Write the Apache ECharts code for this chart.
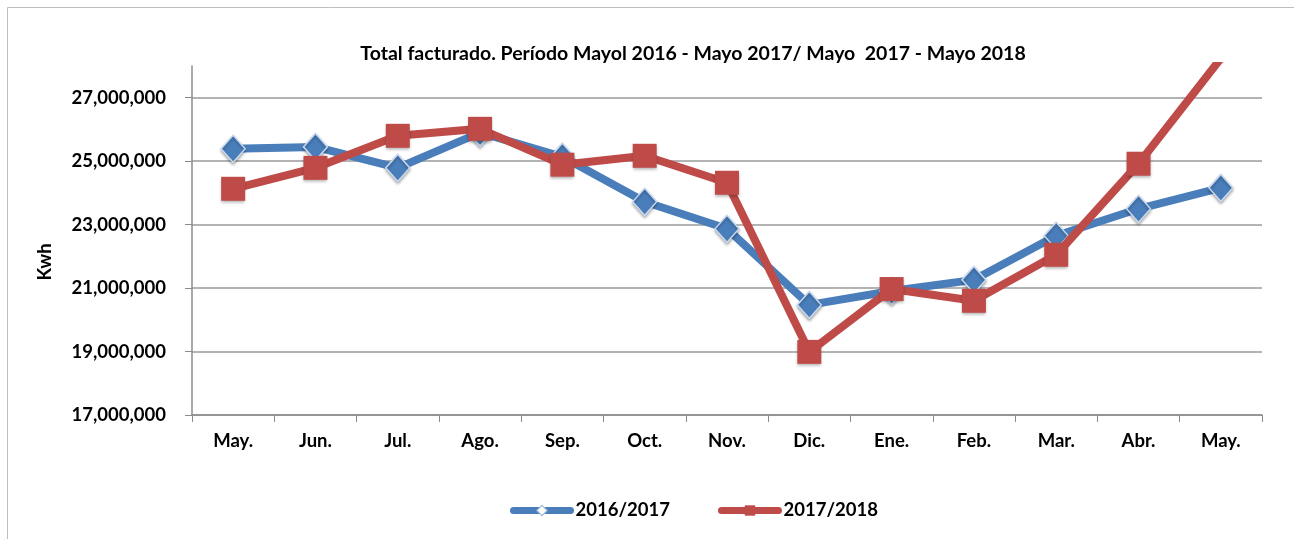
<!DOCTYPE html>
<html><head><meta charset="utf-8">
<script src="https://cdn.jsdelivr.net/npm/echarts@6/dist/echarts.min.js"></script>
<style>html,body{margin:0;padding:0;background:#fff}#c{width:1294px;height:539px}</style>
</head><body><div id="c"></div>
<script>
const categories = ['May.','Jun.','Jul.','Ago.','Sep.','Oct.','Nov.','Dic.','Ene.','Feb.','Mar.','Abr.','May.'];
const s2016 = [25390000,25450000,24790000,25900000,25140000,23720000,22870000,20470000,20910000,21260000,22650000,23500000,24160000];
const s2018 = [24130000,24790000,25800000,26020000,24890000,25170000,24320000,18990000,20970000,20600000,22050000,24920000,28240000];
const yTicks = [17000000,19000000,21000000,23000000,25000000,27000000];
const title = 'Total facturado. Período Mayol 2016 - Mayo 2017/ Mayo  2017 - Mayo 2018';
const yName = 'Kwh';
const FONT = 'Lato';
const FS = 18.5;
const chart = echarts.init(document.getElementById('c'));
chart.setOption({
  animation:false,
  backgroundColor:'#fff',
  title:{text:title,left:688,textAlign:'center',top:39,textStyle:{fontFamily:FONT,fontWeight:'bold',fontSize:19.5,color:'#000'}},
  graphic:[
    {type:'rect',shape:{x:7.5,y:7.5,width:1300,height:600},style:{fill:'none',stroke:'#bdbdbd',lineWidth:1},silent:true},
    {type:'text',x:45.5,y:262,rotation:Math.PI/2,style:{text:yName,fontFamily:FONT,fontWeight:'bold',fontSize:FS,fill:'#000',align:'center',verticalAlign:'middle'},silent:true}
  ],
  grid:{left:192,right:32,top:66,bottom:124},
  legend:{top:496,left:505,itemWidth:57,itemHeight:13,itemGap:48,
    textStyle:{fontFamily:FONT,fontWeight:'bold',fontSize:FS,color:'#000'},
    data:[
      {name:'2016/2017',lineStyle:{width:7,cap:'round',color:'#4a7ebb'},itemStyle:{color:'#ffffff',borderColor:'#9fb8d8',borderWidth:1.2}},
      {name:'2017/2018',lineStyle:{width:7,cap:'round',color:'#be4b48'},itemStyle:{color:'#be4b48',borderWidth:0}}
    ]},
  xAxis:{type:'category',data:categories,boundaryGap:true,
    axisLine:{lineStyle:{color:'#8c8c8c',width:1.5}},
    axisTick:{show:true,length:7,lineStyle:{color:'#8c8c8c'}},
    axisLabel:{fontFamily:FONT,fontWeight:'bold',fontSize:FS,color:'#000',margin:17}},
  yAxis:{type:'value',min:17000000,max:28000000,interval:1000000,
    axisLine:{show:true,lineStyle:{color:'#8c8c8c',width:1.5}},
    axisTick:{show:true,length:7,lineStyle:{color:'#8c8c8c'},customValues:yTicks},
    axisLabel:{fontFamily:FONT,fontWeight:'bold',fontSize:FS,color:'#000',margin:26,customValues:yTicks,
      formatter:v=>v.toLocaleString('en-US')},
    splitLine:{show:true,lineStyle:{color:'#9a9a9a',width:1.5}}},
  series:[
    {name:'2016/2017',type:'line',data:s2016,symbol:'diamond',symbolSize:[24,27],
      lineStyle:{color:'#4a7ebb',width:8},
      itemStyle:{color:'#4a7ebb',borderColor:'#c6d9f1',borderWidth:1.5,shadowBlur:3,shadowColor:'rgba(0,0,0,0.3)',shadowOffsetY:2},
      z:2},
    {name:'2017/2018',type:'line',data:s2018,symbol:'rect',symbolSize:24,
      lineStyle:{color:'#be4b48',width:8},
      itemStyle:{color:'#be4b48',borderWidth:0,shadowBlur:3,shadowColor:'rgba(0,0,0,0.3)',shadowOffsetY:2},
      z:3}
  ]
});
</script></body></html>
